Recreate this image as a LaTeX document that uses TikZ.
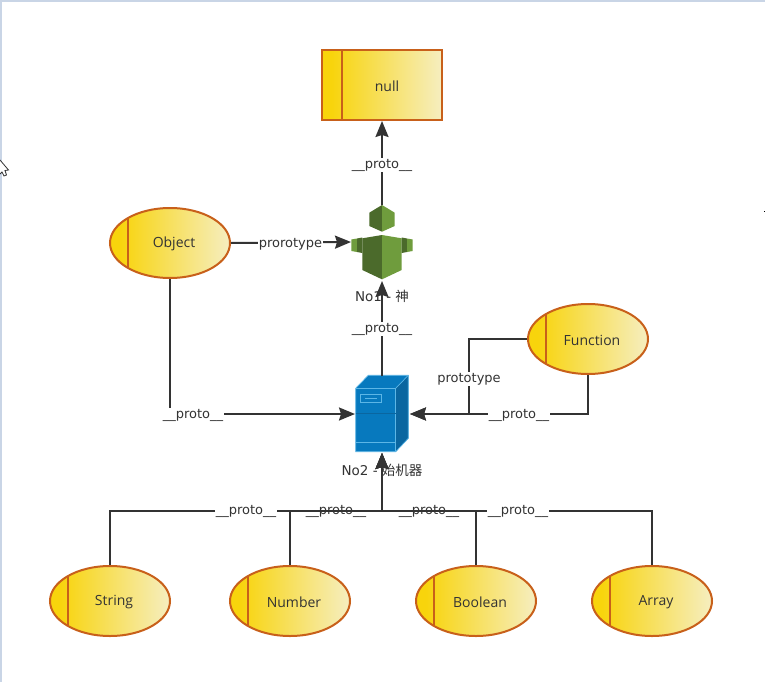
\documentclass[tikz,border=0pt]{standalone}
\usepackage{fontspec}
\setmainfont{DejaVu Sans}
\newfontfamily\nodefont{Open Sans}
\newfontfamily\cjkfont{Noto Sans CJK SC}
\usetikzlibrary{arrows.meta,shapes.geometric,calc}
\definecolor{fillA}{HTML}{F8D40C}
\definecolor{fillB}{HTML}{F6EEC0}
\definecolor{edgeC}{HTML}{C8601A}
\definecolor{lineC}{HTML}{333333}
\definecolor{txtC}{HTML}{333333}
\definecolor{grD}{HTML}{4B6A2B}
\definecolor{grL}{HTML}{6F9C3D}
\definecolor{blA}{HTML}{0779BE}
\definecolor{blD}{HTML}{0A66A0}
\definecolor{blL}{HTML}{5CB6E6}
\definecolor{frameC}{HTML}{C9D5E6}
\pgfdeclarehorizontalshading{ovshade}{100bp}{color(0bp)=(fillA); color(29bp)=(fillA); color(75bp)=(fillB); color(100bp)=(fillB)}
\tikzset{
  oval/.style={ellipse,draw=edgeC,line width=2pt,shading=ovshade,minimum width=120pt,minimum height=70pt,inner sep=0pt},
  boxn/.style={rectangle,draw=edgeC,line width=2pt,shading=ovshade,minimum width=120pt,minimum height=70pt,inner sep=0pt},
  ovaltxt/.style={inner sep=0pt,text=txtC,font=\nodefont\fontsize{14}{16}\selectfont},
  divider/.style={draw=edgeC,line width=2pt},
  conn/.style={draw=lineC,line width=2pt},
  arrowc/.style={conn,-{Stealth[length=16pt,width=13pt,inset=2pt]}},
  lab/.style={fill=white,inner sep=1pt,text=txtC,font=\fontsize{13}{15}\selectfont},
  captxt/.style={inner sep=0pt,text=txtC,font=\fontsize{13.5}{15}\selectfont},
  anchorbox/.style={inner sep=0pt,outer sep=0pt,draw=none},
}
\newcommand{\ovalnode}[4]{%
  \node[oval] (#1) at (#2,#3) {};
  \draw[divider] (#2-42,#3-25) -- (#2-42,#3+25);
  \node[ovaltxt] at (#2+4,#3+1) {#4};
}
\begin{document}
\begin{tikzpicture}[x=1pt,y=-1pt]
\useasboundingbox (0,0) rectangle (765,682);
\fill[white] (0,0) rectangle (765,682);
% window frame
\fill[frameC] (0,0) rectangle (765,2);
\fill[frameC] (0,0) rectangle (2,682);
% cursor and speck
\draw[line width=.8pt,draw=black!80,fill=white] (0,160) -- (8.5,170) -- (5,170.5) -- (6.5,175) -- (4,176) -- (2,172) -- (0,174);
\fill[black] (764,210.5) rectangle (765,211.5);

% anchors for the two icons
\node[anchorbox,minimum width=62pt,minimum height=74pt] (god) at (382,242) {};
\node[anchorbox,minimum width=54pt,minimum height=76pt] (srv) at (382,414) {};

% captions sit under the arrows
\node[captxt] (godcap) at (382,296) {No1 - {\cjkfont 神}};
\node[captxt] (srvcap) at (382,470) {No2 - {\cjkfont 始机器}};

% boxes
\node[boxn] (nullbox) at (382,85) {};
\draw[divider] (342,50) -- (342,120);
\node[ovaltxt] at (387,86) {null};
\ovalnode{object}{170}{243}{Object}
\ovalnode{function}{588}{339}{Function}
\ovalnode{string}{110}{601}{String}
\ovalnode{number}{290}{601}{Number}
\ovalnode{boolean}{476}{601}{Boolean}
\ovalnode{array}{652}{601}{Array}

% robot icon
\fill[grD] (382,205) -- (369.3,212.7) -- (369.3,226) -- (382,231.7) -- cycle;
\fill[grL] (382,205) -- (394.7,212.7) -- (394.7,226) -- (382,231.7) -- cycle;
\fill[grD] (382,235) -- (362.3,238.3) -- (362.3,270) -- (382,279.3) -- cycle;
\fill[grL] (382,235) -- (401.7,238.3) -- (401.7,270) -- (382,279.3) -- cycle;
\fill[grL] (351.3,239.5) -- (357,238.5) -- (357,252) -- (351.3,251) -- cycle;
\fill[grD] (357,238.5) -- (362.3,237.5) -- (362.3,253) -- (357,252) -- cycle;
\fill[grD] (401.7,237.5) -- (407,238.5) -- (407,252) -- (401.7,253) -- cycle;
\fill[grL] (407,238.5) -- (412.7,239.5) -- (412.7,251) -- (407,252) -- cycle;

% server icon
\fill[blA] (355.7,388.3) -- (368.3,375.3) -- (408.3,375.3) -- (408.3,438.3) -- (395.7,451.7) -- (355.7,451.7) -- cycle;
\fill[blD] (395.7,388.3) -- (408.3,375.3) -- (408.3,438.3) -- (395.7,451.7) -- cycle;
\draw[blL,line width=.7pt] (355.7,388.3) -- (368.3,375.3) -- (408.3,375.3) -- (408.3,438.3) -- (395.7,451.7) -- (355.7,451.7) -- cycle;
\draw[blL,line width=.7pt] (355.7,388.3) -- (395.7,388.3) -- (395.7,451.7);
\draw[blL,line width=.7pt] (395.7,388.3) -- (408.3,375.3);
\draw[blD,line width=.7pt] (355.7,413.3) -- (395.7,413.3);
\draw[blL,line width=.7pt] (355.7,442.3) -- (395.7,442.3);
\draw[blL,line width=.8pt] (360.7,394) rectangle (381,402.3);
\draw[blL,line width=.8pt] (365,398.2) -- (376.7,398.2);

% connectors
\coordinate (godtop) at (382,205);
\draw[arrowc] (godtop) -- (nullbox.south);
\node[lab] at (382,165) {\_\_proto\_\_};

\draw[arrowc] (object.east) -- (god.west);
\node[lab] at (290.5,244) {prorotype};

\draw[arrowc] (srv.north) -- (382,281);
\node[lab] at (382,329) {\_\_proto\_\_};

\draw[arrowc] (object.south) |- (355,414);
\node[lab] at (193,415) {\_\_proto\_\_};

\draw[arrowc] (function.west) -- (469,339) -- (469,414) -- (410,414);
\node[lab] at (469,379) {prototype};
\draw[arrowc] (function.south) |- (410,414);
\node[lab] at (519,415) {\_\_proto\_\_};

\coordinate (srvbot) at (382,453);
\draw[arrowc] (number.north) -- (290,511) -- (382,511) -- (srvbot);
\node[lab] at (336,511.5) {\_\_proto\_\_};
\draw[arrowc] (string.north) -- (110,511) -- (382,511) -- (srvbot);
\node[lab] at (246,511.5) {\_\_proto\_\_};
\draw[arrowc] (boolean.north) -- (476,511) -- (382,511) -- (srvbot);
\node[lab] at (429,511.5) {\_\_proto\_\_};
\draw[arrowc] (array.north) -- (652,511) -- (382,511) -- (srvbot);
\node[lab] at (518,511.5) {\_\_proto\_\_};
\end{tikzpicture}
\end{document}
